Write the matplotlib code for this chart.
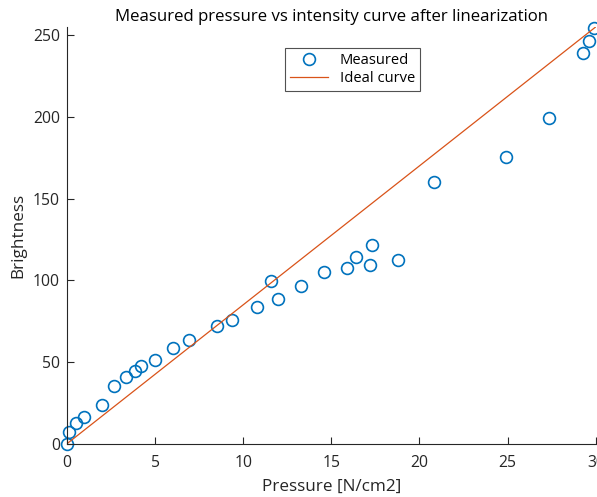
import matplotlib
matplotlib.use("Agg")
import matplotlib.pyplot as plt
import numpy as np

plt.rcParams['font.family'] = ['Open Sans', 'DejaVu Sans']

pressure = [0.0, 0.1, 0.53, 1.0, 1.97, 2.69, 3.37, 3.88, 4.18, 5.0, 6.02, 6.91,
            8.52, 9.39, 10.8, 11.57, 11.99, 13.3, 14.56, 15.9, 16.4, 17.2, 17.3,
            18.8, 20.8, 24.9, 27.37, 29.27, 29.6, 29.9]
brightness = [0, 7.5, 12.7, 16.7, 23.7, 35.5, 40.6, 44.5, 47.5, 51.4, 58.6, 63.5,
              72.2, 75.5, 83.4, 99.3, 88.3, 96.5, 105.3, 107.5, 114.3, 109.1, 121.4,
              112.4, 160.2, 175.3, 199.3, 239.1, 246.2, 254.0]
ideal_x = [0, 30]
ideal_y = [0, 255]

ink = '#262626'
fig = plt.figure(figsize=(5.97, 4.97), dpi=100)
ax = fig.add_axes([0.112, 0.107, 0.886, 0.839])
ax.plot(pressure, brightness, 'o', mfc='none', mec='#0072BD', ms=8.5, mew=1.2,
        label='Measured', clip_on=False)
ax.plot(ideal_x, ideal_y, '-', color='#D95319', lw=0.9, label='Ideal curve')
ax.set_xlim(0, 30)
ax.set_ylim(0, 255)
ax.set_xticks([0, 5, 10, 15, 20, 25, 30])
ax.set_yticks([0, 50, 100, 150, 200, 250])
for s in ['top', 'right']:
    ax.spines[s].set_visible(False)
for s in ['left', 'bottom']:
    ax.spines[s].set_color(ink)
    ax.spines[s].set_linewidth(0.8)
ax.tick_params(direction='in', length=5, width=0.8, colors=ink, labelsize=11.3)
ax.tick_params(axis='x', pad=8)
ax.tick_params(axis='y', pad=5)
ax.set_xlabel('Pressure [N/cm2]', fontsize=12.3, color=ink, labelpad=6)
ax.set_ylabel('Brightness', fontsize=12.3, color=ink, labelpad=5)
ax.set_title('Measured pressure vs intensity curve after linearization',
             fontsize=12.1, color='black', pad=4)
leg = ax.legend(loc='upper left', bbox_to_anchor=(0.412, 0.95), fontsize=10.6,
                frameon=True, fancybox=False, handlelength=2.6, borderpad=0.35,
                labelspacing=0.2, borderaxespad=0)
leg.get_frame().set_edgecolor(ink)
leg.get_frame().set_linewidth(0.8)
fig.savefig('out.png', dpi=100)
